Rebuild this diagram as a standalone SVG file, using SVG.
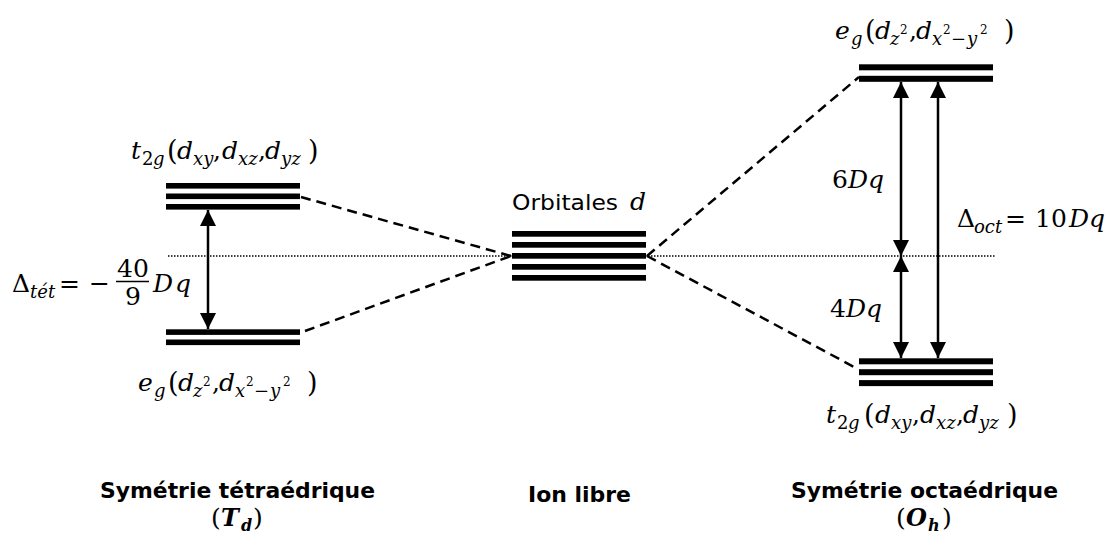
<svg xmlns="http://www.w3.org/2000/svg" width="1107" height="544" viewBox="0 0 1107 544">
<style>
.bar{fill:#000}
.m{font-family:"DejaVu Serif","Liberation Serif",serif;font-style:italic;font-size:25px;fill:#000}
.u{font-style:normal}
.s{font-size:18px}
.sp{font-size:12px;font-style:normal}
.p{font-style:normal;font-size:27px}
.b{font-family:"DejaVu Sans","Liberation Sans",sans-serif;font-weight:bold;font-size:21px;fill:#000}
.r{font-family:"DejaVu Sans","Liberation Sans",sans-serif;font-size:21px;fill:#000}
.bi{font-family:"DejaVu Serif","Liberation Serif",serif;font-weight:bold;font-style:italic;font-size:24px;fill:#000}
.bp{font-style:normal;font-weight:normal;font-size:25px}
.dash{stroke:#000;stroke-width:2.5;stroke-dasharray:10 6;fill:none}
.dot{stroke:#000;stroke-width:1.3;stroke-dasharray:1.5 1.5;fill:none}
.arr{stroke:#000;stroke-width:2.5;fill:none;marker-start:url(#ah);marker-end:url(#ah)}
</style>
<defs>
<marker id="ah" markerUnits="userSpaceOnUse" markerWidth="16" markerHeight="16" refX="15" refY="7.5" orient="auto-start-reverse" viewBox="0 0 15 15">
<path d="M0,0 L15,7.5 L0,15 z" fill="#000"/>
</marker>
</defs>
<rect width="1107" height="544" fill="#fff"/>

<g id="connectors">
<line class="dot" x1="168" y1="256" x2="995" y2="256"/>
<line class="dash" x1="301" y1="197" x2="511" y2="256"/>
<line class="dash" x1="305" y1="331" x2="511" y2="256"/>
<line class="dash" x1="647" y1="256" x2="859" y2="77"/>
<line class="dash" x1="647" y1="256" x2="856" y2="368"/>
<line class="arr" x1="208" y1="210" x2="208" y2="329"/>
<line class="arr" x1="901" y1="82" x2="901" y2="256"/>
<line class="arr" x1="901" y1="256" x2="901" y2="358"/>
<line class="arr" x1="938" y1="82" x2="938" y2="358"/>
</g>

<g id="td-t2g">
<rect class="bar" x="166" y="183" width="134" height="5.6"/>
<rect class="bar" x="166" y="193.5" width="134" height="5.6"/>
<rect class="bar" x="166" y="204" width="134" height="5.6"/>
<text class="m"><tspan x="131" y="159">t</tspan><tspan class="s u" x="142" y="165">2</tspan><tspan class="s" x="153" y="165">g</tspan><tspan class="p" x="167" y="160">(</tspan><tspan x="177" y="159">d</tspan><tspan class="s" x="193" y="165">xy</tspan><tspan class="u" x="213" y="159">,</tspan><tspan x="222" y="159">d</tspan><tspan class="s" x="238" y="165">xz</tspan><tspan class="u" x="258" y="159">,</tspan><tspan x="265" y="159">d</tspan><tspan class="s" x="281" y="165">yz</tspan><tspan class="p" x="308" y="160">)</tspan></text>
</g>

<g id="td-eg">
<rect class="bar" x="166" y="329.3" width="134" height="5.6"/>
<rect class="bar" x="166" y="339.5" width="134" height="5.6"/>
<text class="m"><tspan x="138" y="391">e</tspan><tspan class="s" x="154" y="397">g</tspan><tspan class="p" x="168" y="392">(</tspan><tspan x="178" y="391">d</tspan><tspan class="s" x="193" y="397">z</tspan><tspan class="sp" x="203" y="386">2</tspan><tspan class="u" x="212" y="391">,</tspan><tspan x="219" y="391">d</tspan><tspan class="s" x="235" y="397">x</tspan><tspan class="sp" x="246" y="386">2</tspan><tspan class="s u" x="254" y="397">−</tspan><tspan class="s" x="270" y="397">y</tspan><tspan class="sp" x="283" y="386">2</tspan><tspan class="p" x="307" y="392">)</tspan></text>
</g>

<g id="td-delta">
<text class="m"><tspan class="u" x="12" y="292">Δ</tspan><tspan class="s" x="30" y="298">tét</tspan><tspan class="u" x="59" y="292">=</tspan><tspan class="u" x="89" y="292">−</tspan><tspan class="u" x="117" y="277">40</tspan><tspan class="u" x="125" y="305">9</tspan><tspan x="153" y="292" letter-spacing="2">Dq</tspan></text>
<line x1="116" y1="281.5" x2="149" y2="281.5" stroke="#000" stroke-width="1.6"/>
</g>

<g id="free-ion">
<rect class="bar" x="512" y="231" width="134" height="5.7"/>
<rect class="bar" x="512" y="242" width="134" height="5.7"/>
<rect class="bar" x="512" y="253" width="134" height="5.7"/>
<rect class="bar" x="512" y="264" width="134" height="5.7"/>
<rect class="bar" x="512" y="275" width="134" height="5.7"/>
<text class="r" x="512" y="210" textLength="106" lengthAdjust="spacingAndGlyphs">Orbitales</text>
<text class="m" x="630" y="210">d</text>
</g>

<g id="oh-eg">
<rect class="bar" x="859" y="64.3" width="134" height="6"/>
<rect class="bar" x="859" y="75.8" width="134" height="6"/>
<text class="m"><tspan x="835" y="39">e</tspan><tspan class="s" x="851" y="45">g</tspan><tspan class="p" x="865" y="40">(</tspan><tspan x="875" y="39">d</tspan><tspan class="s" x="890" y="45">z</tspan><tspan class="sp" x="900" y="34">2</tspan><tspan class="u" x="909" y="39">,</tspan><tspan x="916" y="39">d</tspan><tspan class="s" x="932" y="45">x</tspan><tspan class="sp" x="943" y="34">2</tspan><tspan class="s u" x="951" y="45">−</tspan><tspan class="s" x="967" y="45">y</tspan><tspan class="sp" x="980" y="34">2</tspan><tspan class="p" x="1004" y="40">)</tspan></text>
</g>

<g id="oh-t2g">
<rect class="bar" x="859" y="358.3" width="134" height="6"/>
<rect class="bar" x="859" y="369.2" width="134" height="6"/>
<rect class="bar" x="859" y="380.1" width="134" height="6"/>
<text class="m"><tspan x="826" y="423">t</tspan><tspan class="s u" x="837" y="429">2</tspan><tspan class="s" x="848" y="429">g</tspan><tspan class="p" x="864" y="424">(</tspan><tspan x="875" y="423">d</tspan><tspan class="s" x="891" y="429">xy</tspan><tspan class="u" x="912" y="423">,</tspan><tspan x="920" y="423">d</tspan><tspan class="s" x="936" y="429">xz</tspan><tspan class="u" x="956" y="423">,</tspan><tspan x="963" y="423">d</tspan><tspan class="s" x="979" y="429">yz</tspan><tspan class="p" x="1007" y="424">)</tspan></text>
</g>

<g id="oh-labels">
<text class="m"><tspan class="u" x="832" y="188">6</tspan><tspan x="848" y="188">Dq</tspan></text>
<text class="m"><tspan class="u" x="830" y="317">4</tspan><tspan x="846" y="317">Dq</tspan></text>
<text class="m"><tspan class="u" x="957" y="227">Δ</tspan><tspan class="s" x="974" y="233">oct</tspan><tspan class="u" x="1005" y="227">=</tspan><tspan class="u" x="1035" y="227">10</tspan><tspan x="1069" y="227">Dq</tspan></text>
</g>

<g id="titles">
<text class="b" x="100" y="498" textLength="275" lengthAdjust="spacingAndGlyphs">Symétrie tétraédrique</text>
<text class="bi"><tspan class="bp" x="211" y="526">(</tspan><tspan x="221" y="526">T</tspan><tspan font-size="16" x="241" y="531">d</tspan><tspan class="bp" x="253" y="526">)</tspan></text>
<text class="b" x="528" y="502" textLength="103" lengthAdjust="spacingAndGlyphs">Ion libre</text>
<text class="b" x="791" y="498" textLength="267" lengthAdjust="spacingAndGlyphs">Symétrie octaédrique</text>
<text class="bi"><tspan class="bp" x="896" y="526">(</tspan><tspan x="906" y="526">O</tspan><tspan font-size="16" x="928" y="531">h</tspan><tspan class="bp" x="942" y="526">)</tspan></text>
</g>
</svg>
